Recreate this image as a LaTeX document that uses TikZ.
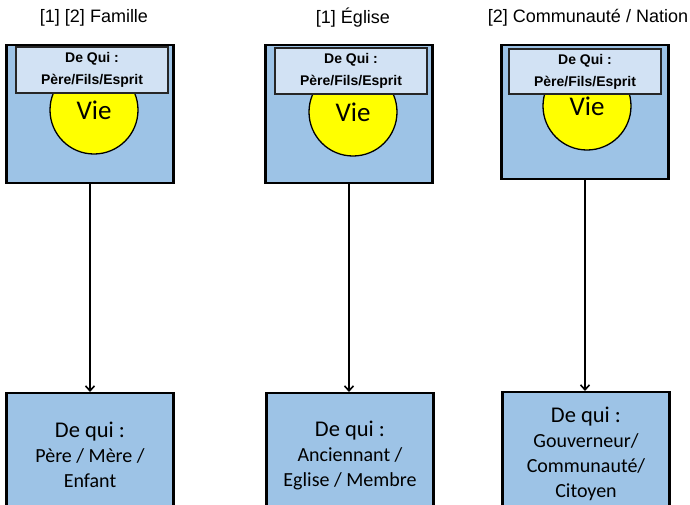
\documentclass[tikz,border=0pt]{standalone}
\usepackage{fontspec}
\setmainfont{Carlito}
\newfontfamily\arialfont{Liberation Sans}
\usetikzlibrary{arrows.meta}
\definecolor{boxblue}{HTML}{9DC3E6}
\definecolor{headblue}{HTML}{D2E2F4}
\definecolor{vieyellow}{HTML}{FFFF00}
\tikzset{
  title/.style={font=\arialfont\fontsize{18}{20}\selectfont, inner sep=0pt},
  topbox/.style={draw=black, line width=2.2pt, fill=boxblue, minimum width=167pt, inner sep=0pt},
  viecircle/.style={circle, draw=black, line width=1.3pt, fill=vieyellow, minimum size=88pt, inner sep=0pt,
    font=\fontsize{27}{30}\selectfont},
  headbox/.style={draw=black!85, line width=1.4pt, fill=headblue, minimum width=152pt, minimum height=46pt,
    inner sep=0pt, align=center, font=\arialfont\bfseries\fontsize{14}{22}\selectfont},
  basebox/.style={draw=black, line width=2.2pt, fill=boxblue, anchor=north, minimum width=167pt,
    minimum height=124pt, inner sep=0pt, align=center, font=\fontsize{20}{25}\selectfont},
  link/.style={line width=2.2pt, -{Straight Barb[length=5pt,width=9pt,line width=1.6pt]}}
}
\newcommand{\dequi}{{\fontsize{22.5}{25}\selectfont De qui :}\\}
\begin{document}
\begin{tikzpicture}[x=1pt, y=-1pt]
  %%%%% START %%%%%
  \useasboundingbox (0,0) rectangle (690,504);

  \node[title] (t1) at (94,18) {[1] [2] Famille};
  \node[title] (t2) at (353,18) {[1] Église};
  \node[title] (t3) at (588,18) {[2] Communauté / Nation};

  \node[topbox, minimum height=138pt] (top1) at (90,114) {};
  \node[topbox, minimum height=138pt] (top2) at (349,114) {};
  \node[topbox, minimum height=134pt] (top3) at (585,112) {};

  \node[viecircle] (vie1) at (94,110) {\raisebox{-3pt}{Vie}};
  \node[viecircle] (vie2) at (353,112) {\raisebox{-2pt}{Vie}};
  \node[viecircle] (vie3) at (587,106) {\raisebox{-4pt}{Vie}};

  \node[headbox] (head1) at (92,70) {De Qui :\\Père/Fils/Esprit};
  \node[headbox] (head2) at (351,71) {De Qui :\\Père/Fils/Esprit};
  \node[headbox, minimum height=45pt] (head3) at (585,71.5) {De Qui :\\Père/Fils/Esprit};

  \node[basebox] (base1) at (90,392) {\dequi Père / Mère /\\Enfant};
  \node[basebox] (base2) at (350,392) {\dequi Anciennant /\\Eglise / Membre};
  \node[basebox] (base3) at (586,391) {\dequi Gouverneur/\\Communauté/\\Citoyen};

  \draw[link] (top1.south) -- (top1.south |- base1.north);
  \draw[link] (top2.south) -- (top2.south |- base2.north);
  \draw[link] (top3.south) -- (top3.south |- base3.north);
  %%%%% END %%%%%
\end{tikzpicture}
\end{document}
